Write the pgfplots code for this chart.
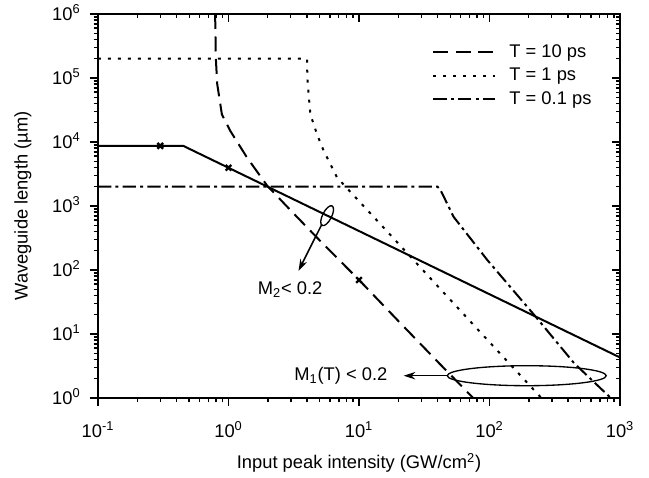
\documentclass[border=0pt]{standalone}
\usepackage{fontspec}
\setmainfont{Liberation Sans}
\usepackage{pgfplots}
\pgfplotsset{compat=1.18}
\usetikzlibrary{arrows.meta, calc}

\begin{document}
\begin{tikzpicture}[font=\fontsize{11}{13}\selectfont]
\begin{axis}[name=ax,
  scale only axis, width=313.2pt, height=230.4pt,
  xmode=log, ymode=log, xmin=0.1, xmax=1000, ymin=1, ymax=1e6,
  xtick={0.1,1,10,100,1000}, ytick={1,10,100,1000,1e4,1e5,1e6},
  major tick length=4.6pt, minor tick length=2.6pt,
  every axis/.append style={line width=1.1pt},
  tick style={black, line width=0.9pt},
  tick align=outside, xtick pos=left, ytick pos=left,
  xticklabels={10\textsuperscript{-1},10\textsuperscript{0},10\textsuperscript{1},10\textsuperscript{2},10\textsuperscript{3}},
  yticklabels={10\textsuperscript{0},10\textsuperscript{1},10\textsuperscript{2},10\textsuperscript{3},10\textsuperscript{4},10\textsuperscript{5},10\textsuperscript{6}},
  xticklabel style={anchor=base, yshift=-19pt},
  yticklabel style={anchor=base east, yshift=-3.9pt, xshift=-2pt},
  xlabel={Input peak intensity (GW/cm\textsuperscript{2})},
  ylabel={Waveguide length (µm)},
  every axis x label/.style={at={(axis description cs:0.5,-0.1693)}, anchor=center},
  every axis y label/.style={at={(axis description cs:-0.1437,0.5)}, rotate=90, anchor=center},
  legend style={at={(0.963,0.94)}, anchor=north east, draw=none, fill=none,
    row sep=1pt, font=\fontsize{11}{13}\selectfont},
  legend cell align=left,
  legend image code/.code={\draw[#1] (0pt,0pt) -- (37pt,0pt); \path (43pt,0pt);},
]
% T = 10 ps
\addplot[black, line width=1.2pt, dash pattern=on 9pt off 4.5pt] coordinates {
  (0.79,1e6) (0.80,2e5) (0.82,8e4) (0.89,2.7e4) (1.03,1.5e4) (1.38,5.8e3)
  (1.97,2.1e3) (3,850) (5,290) (10,70) (20,16) (40,3.7) (75,1)
};
\addlegendentry{T = 10 ps}
% T = 1 ps
\addplot[black, line width=1.2pt, dash pattern=on 1.8pt off 4.2pt] coordinates {
  (0.1,2e5) (4,2e5) (4.02,1e5) (4.1,6e4) (4.24,2.7e4) (4.76,1.33e4)
  (5.36,7.3e3) (6.78,2.8e3) (7.9,2000) (15,490) (30,106) (60,23) (120,5) (250,1)
};
\addlegendentry{T = 1 ps}
% T = 0.1 ps
\addplot[black, line width=1.2pt, dash pattern=on 8pt off 2.5pt on 1.8pt off 2.5pt] coordinates {
  (0.1,2000) (40,2000) (42,1800) (53,680) (96,144) (226,18.6) (445,3.5) (850,1)
};
\addlegendentry{T = 0.1 ps}
% M2 limit
\addplot[black, line width=1.2pt, forget plot] coordinates {
  (0.1,8700) (0.45,8700) (1000,4.3)
};
\addplot[black, only marks, mark=x, mark size=2.4pt, mark options={line width=1.4pt, solid}, forget plot] coordinates {
  (0.3,8700) (1,3955) (10,70)
};
% annotations
\draw[line width=0.8pt, rotate around={-27:(axis cs:5.7,705)}] (axis cs:5.7,705) ellipse (2.7pt and 6.6pt);
\draw[line width=0.9pt, -{Stealth[length=7pt, width=4.5pt]}] (axis cs:5.2,522) -- (axis cs:3.44,97);
\node at (axis cs:2.97,49) {M\textsubscript{2}< 0.2};
\draw[line width=0.8pt] (axis cs:193,2.23) ellipse (47.7pt and 6pt);
\draw[line width=0.9pt, -{Stealth[length=7pt, width=4.5pt]}] (axis cs:47.4,2.23) -- (axis cs:22,2.23);
\node[anchor=east] at (axis cs:18.5,2.23) {M\textsubscript{1}(T) < 0.2};
\end{axis}
% frame ticks: all point down / left (outside at bottom-left, inside at top-right)
\foreach \e in {0,...,4} {
  \draw[line width=0.9pt] ($(ax.south west)!{\e/4}!(ax.south east)$) -- ++(0,-4.6pt);
  \draw[line width=0.9pt] ($(ax.north west)!{\e/4}!(ax.north east)$) -- ++(0,-4.6pt);
}
\foreach \e in {0,...,3} {
  \foreach \m in {2,...,9} {
    \draw[line width=0.8pt] ($(ax.south west)!{(\e+log10(\m))/4}!(ax.south east)$) -- ++(0,-2.6pt);
    \draw[line width=0.8pt] ($(ax.north west)!{(\e+log10(\m))/4}!(ax.north east)$) -- ++(0,-2.6pt);
  }
}
\foreach \e in {0,...,6} {
  \draw[line width=0.9pt] ($(ax.south west)!{\e/6}!(ax.north west)$) -- ++(-4.6pt,0);
  \draw[line width=0.9pt] ($(ax.south east)!{\e/6}!(ax.north east)$) -- ++(-4.6pt,0);
}
\foreach \e in {0,...,5} {
  \foreach \m in {2,...,9} {
    \draw[line width=0.8pt] ($(ax.south west)!{(\e+log10(\m))/6}!(ax.north west)$) -- ++(-2.6pt,0);
    \draw[line width=0.8pt] ($(ax.south east)!{(\e+log10(\m))/6}!(ax.north east)$) -- ++(-2.6pt,0);
  }
}
\pgfresetboundingbox
\useasboundingbox ([shift={(-58.8pt,-48pt)}]ax.south west) rectangle ([shift={(17.4pt,8.4pt)}]ax.north east);
\end{tikzpicture}
\end{document}
